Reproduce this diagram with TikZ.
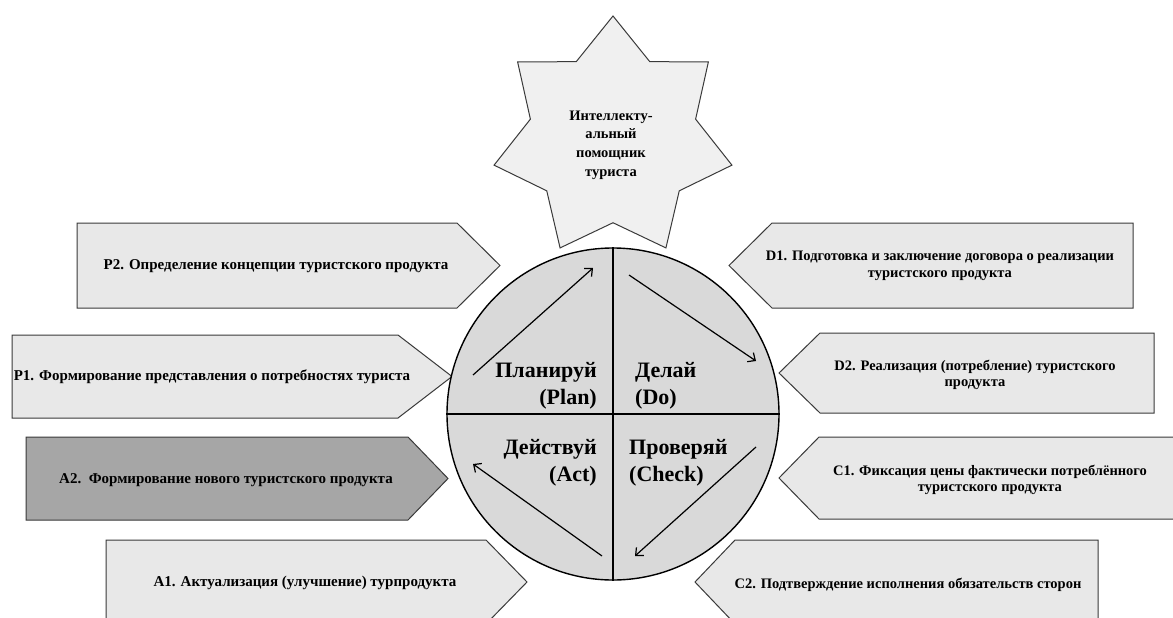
\documentclass[tikz,border=0pt]{standalone}
\usepackage{fontspec}
\setmainfont{Liberation Serif}
\usetikzlibrary{shapes.geometric,arrows.meta}
\definecolor{boxfill}{HTML}{E8E8E8}
\definecolor{darkfill}{HTML}{A6A6A6}
\definecolor{circfill}{HTML}{D9D9D9}
\definecolor{starfill}{HTML}{F0F0F0}
\definecolor{edgecol}{HTML}{3A3A3A}
\begin{document}
\begin{tikzpicture}[x=1pt,y=-1pt,
  tab/.style={draw=edgecol, line width=1pt, fill=boxfill, line join=miter},
  darktab/.style={tab, fill=darkfill},
  lbl/.style={font=\bfseries\fontsize{15}{17}\selectfont, align=center, inner sep=0pt},
  rlbl/.style={font=\bfseries\fontsize{14.5}{16.5}\selectfont, align=center, inner sep=0pt},
  qlbl/.style={font=\bfseries\fontsize{22}{27.5}\selectfont, inner sep=0pt},
  cyc/.style={-{Straight Barb[length=6pt,width=11pt]}, line width=1.2pt, black}]
\useasboundingbox (0,0) rectangle (1173,618);
\fill[white] (0,0) rectangle (1173,618);

% star
\node[star, star points=7, star point ratio=1.44, minimum size=244pt, draw=edgecol, line width=1pt, fill=starfill, inner sep=0pt] (star) at (613,138) {};
\node[font=\bfseries\fontsize{14.5}{18.7}\selectfont, align=center, inner sep=0pt] (startext) at (611,145) {Интеллекту-\\альный\\помощник\\туриста};

% left tabs
\draw[tab] (77,223) -- (457,223) -- (500,265.5) -- (457,308) -- (77,308) -- cycle;
\draw[tab] (12,335) -- (398,335) -- (452,376.5) -- (398,418) -- (12,418) -- cycle;
\draw[darktab] (26,437) -- (408,437) -- (448,478.5) -- (408,520) -- (26,520) -- cycle;
\draw[tab] (106,540) -- (486,540) -- (527,582) -- (486,624) -- (106,624) -- cycle;
% right tabs
\draw[tab] (1133,223) -- (772,223) -- (729,265.5) -- (772,308) -- (1133,308) -- cycle;
\draw[tab] (1154,333) -- (820,333) -- (779,373) -- (820,413) -- (1154,413) -- cycle;
\draw[tab] (1180,437) -- (819,437) -- (779,478) -- (819,519) -- (1180,519) -- (1180,437);
\draw[tab] (1098,540) -- (735,540) -- (695,582) -- (735,624) -- (1098,624) -- cycle;

\node[lbl] (tP2) at (276,266) {P2. Определение концепции туристского продукта};
\node[lbl] (tP1) at (212,377) {P1. Формирование представления о потребностях туриста};
\node[lbl] (tA2) at (226,480) {A2.\ \ Формирование нового туристского продукта};
\node[lbl] (tA1) at (305,583) {A1. Актуализация (улучшение) турпродукта};
\node[rlbl] (tD1) at (940,266) {D1. Подготовка и заключение договора о реализации\\туристского продукта};
\node[rlbl] (tD2) at (975,375) {D2. Реализация (потребление) туристского\\продукта};
\node[rlbl] (tC1) at (990,480) {C1. Фиксация цены фактически потреблённого\\туристского продукта};
\node[rlbl] (tC2) at (908,585) {C2. Подтверждение исполнения обязательств сторон};

% PDCA circle
\node[circle, minimum size=332pt, inner sep=0pt, fill=circfill, draw=black, line width=1.4pt] (wheel) at (613,414) {};
\draw[line width=1.4pt] (wheel.north) -- (wheel.south);
\draw[line width=1.4pt] (wheel.west) -- (wheel.east);

\node[qlbl, align=right, anchor=east] (plan) at (597,386) {Планируй\\(Plan)};
\node[qlbl, align=left, anchor=west] (do) at (635,386) {Делай\\(Do)};
\node[qlbl, align=right, anchor=east] (act) at (597,463) {Действуй\\(Act)};
\node[qlbl, align=left, anchor=west] (check) at (629,463) {Проверяй\\(Check)};

\coordinate (p1) at (473,375); \coordinate (p2) at (593,268);
\coordinate (d1) at (629,275); \coordinate (d2) at (756,361);
\coordinate (c1) at (756,447); \coordinate (c2) at (635,556);
\coordinate (a1) at (602,556); \coordinate (a2) at (473,464);
\draw[cyc] (p1) -- (p2);
\draw[cyc] (d1) -- (d2);
\draw[cyc] (c1) -- (c2);
\draw[cyc] (a1) -- (a2);
\end{tikzpicture}
\end{document}
